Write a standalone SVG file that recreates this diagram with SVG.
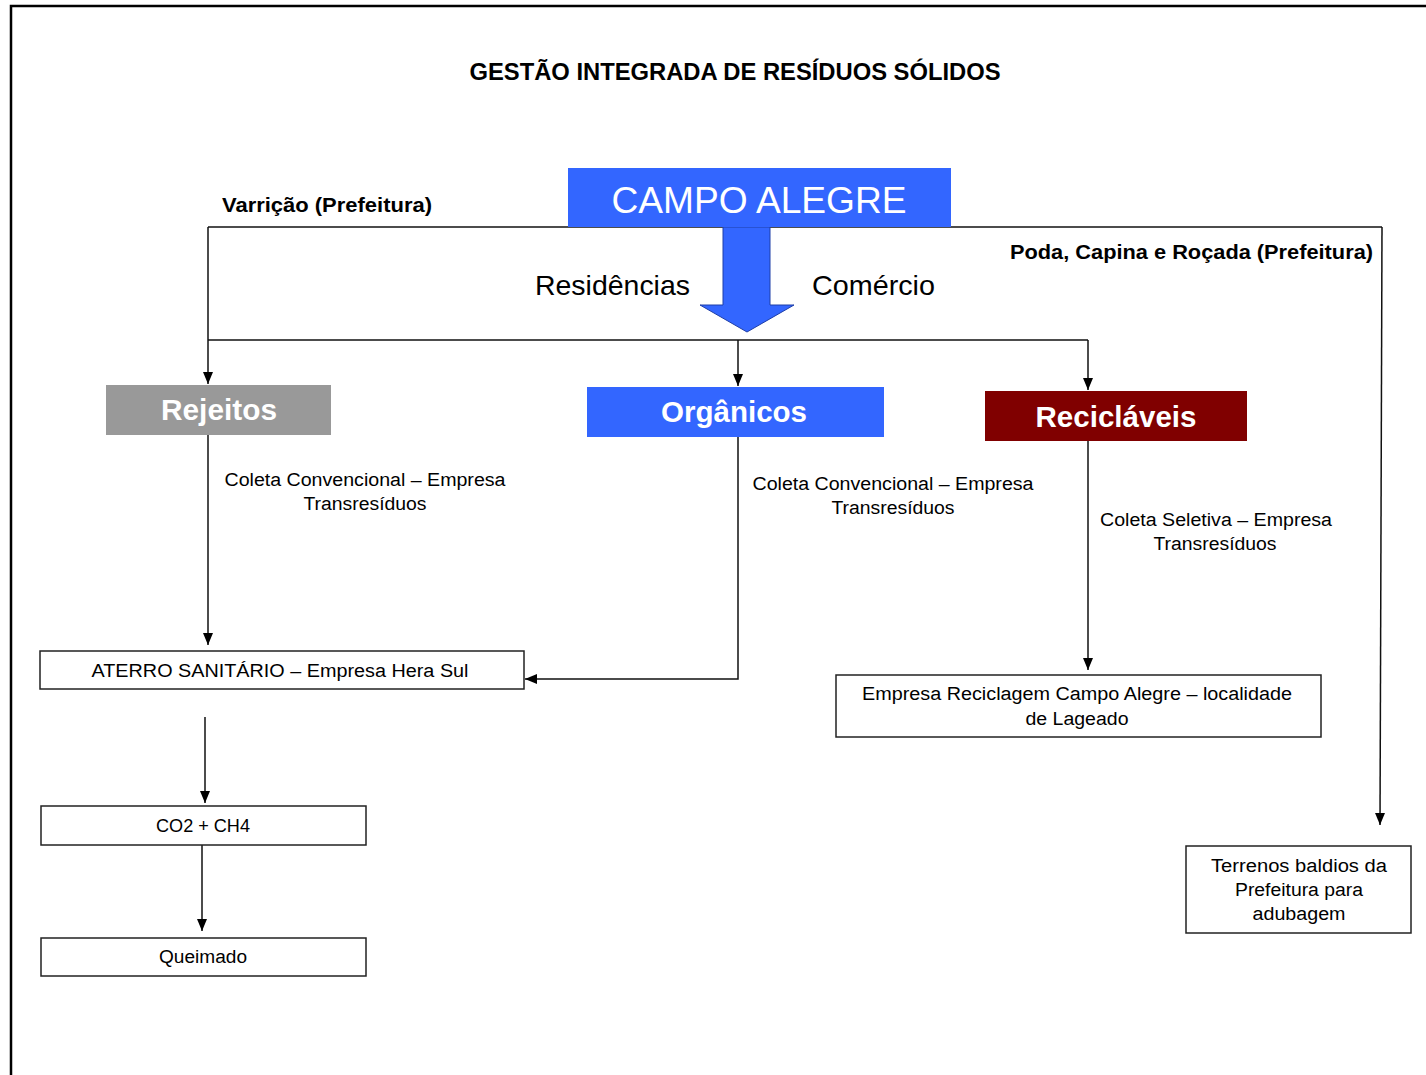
<svg xmlns="http://www.w3.org/2000/svg" width="1426" height="1075" viewBox="0 0 1426 1075">
<style>
  text { font-family: "Liberation Sans", Arial, sans-serif; fill: #000; }
  .box { fill: #fff; stroke: #222; stroke-width: 1.5; }
  .lbl { font-size: 18px; text-anchor: middle; }
  .big { font-size: 29px; font-weight: bold; fill: #fff; text-anchor: middle; }
  .bold { font-size: 20px; font-weight: bold; }
  .conn { fill: none; stroke: #111; stroke-width: 1.5; }
</style>
<defs>
  <marker id="ah" viewBox="0 0 12 10" refX="12" refY="5" markerWidth="12" markerHeight="10" markerUnits="userSpaceOnUse" orient="auto">
    <path d="M0,0 L12,5 L0,10 z" fill="#000"/>
  </marker>
</defs>
<rect x="0" y="0" width="1426" height="1075" fill="#fff"/>
<path d="M11,1075 V6 H1426" fill="none" stroke="#000" stroke-width="2.5"/>

<text x="735" y="80" font-size="24" font-weight="bold" text-anchor="middle" textLength="531" lengthAdjust="spacingAndGlyphs" fill="#111">GESTÃO INTEGRADA DE RESÍDUOS SÓLIDOS</text>

<g id="connectors">
  <path class="conn" d="M208,227 H1382"/>
  <path class="conn" d="M208,227 V384" marker-end="url(#ah)"/>
  <path class="conn" d="M1382,227 L1380,825" marker-end="url(#ah)"/>
  <path class="conn" d="M208,340 H1088"/>
  <path class="conn" d="M738,340 V386" marker-end="url(#ah)"/>
  <path class="conn" d="M1088,340 V390" marker-end="url(#ah)"/>
  <path class="conn" d="M208,435 V645" marker-end="url(#ah)"/>
  <path class="conn" d="M738,437 V679 H525" marker-end="url(#ah)"/>
  <path class="conn" d="M1088,441 V670" marker-end="url(#ah)"/>
  <path class="conn" d="M205,717 V803" marker-end="url(#ah)"/>
  <path class="conn" d="M202,845 V931" marker-end="url(#ah)"/>
  <polygon points="723,227 770,227 770,305 794,305 747,332 700,305 723,305" fill="#3366ff" stroke="#1f3fa8" stroke-width="1"/>
  <text x="222" y="212" class="bold" textLength="210" lengthAdjust="spacingAndGlyphs">Varrição (Prefeitura)</text>
  <text x="1010" y="259" class="bold" textLength="363" lengthAdjust="spacingAndGlyphs">Poda, Capina e Roçada (Prefeitura)</text>
  <text x="535" y="295" font-size="28" textLength="155" lengthAdjust="spacingAndGlyphs">Residências</text>
  <text x="812" y="295" font-size="28" textLength="123" lengthAdjust="spacingAndGlyphs">Comércio</text>
  <text x="365" y="486" class="lbl" textLength="281" lengthAdjust="spacingAndGlyphs">Coleta Convencional – Empresa</text>
  <text x="365" y="510" class="lbl" textLength="123" lengthAdjust="spacingAndGlyphs">Transresíduos</text>
  <text x="893" y="490" class="lbl" textLength="281" lengthAdjust="spacingAndGlyphs">Coleta Convencional – Empresa</text>
  <text x="893" y="514" class="lbl" textLength="123" lengthAdjust="spacingAndGlyphs">Transresíduos</text>
  <text x="1216" y="526" class="lbl" textLength="232" lengthAdjust="spacingAndGlyphs">Coleta Seletiva – Empresa</text>
  <text x="1215" y="550" class="lbl" textLength="123" lengthAdjust="spacingAndGlyphs">Transresíduos</text>
</g>

<g id="campo-alegre">
  <rect x="568" y="168" width="383" height="59" fill="#3366ff"/>
  <text x="759" y="213" font-size="36" text-anchor="middle" textLength="295" lengthAdjust="spacingAndGlyphs" style="fill:#fff">CAMPO ALEGRE</text>
</g>

<g id="rejeitos">
  <rect x="106" y="385" width="225" height="50" fill="#999999"/>
  <text x="219" y="420" class="big" style="fill:#fff" textLength="116" lengthAdjust="spacingAndGlyphs">Rejeitos</text>
</g>

<g id="organicos">
  <rect x="587" y="387" width="297" height="50" fill="#3366ff"/>
  <text x="734" y="422" class="big" style="fill:#fff" textLength="146" lengthAdjust="spacingAndGlyphs">Orgânicos</text>
</g>

<g id="reciclaveis">
  <rect x="985" y="391" width="262" height="50" fill="#800000"/>
  <text x="1116" y="427" class="big" style="fill:#fff" textLength="161" lengthAdjust="spacingAndGlyphs">Recicláveis</text>
</g>

<g id="aterro">
  <rect class="box" x="40" y="651" width="484" height="38"/>
  <text x="280" y="677" class="lbl" textLength="377" lengthAdjust="spacingAndGlyphs">ATERRO SANITÁRIO  – Empresa Hera  Sul</text>
</g>

<g id="co2-ch4">
  <rect class="box" x="41" y="806" width="325" height="39"/>
  <text x="203" y="832" class="lbl" textLength="94" lengthAdjust="spacingAndGlyphs">CO2 + CH4</text>
</g>

<g id="queimado">
  <rect class="box" x="41" y="938" width="325" height="38"/>
  <text x="203" y="963" class="lbl" textLength="88" lengthAdjust="spacingAndGlyphs">Queimado</text>
</g>

<g id="empresa-reciclagem">
  <rect class="box" x="836" y="675" width="485" height="62"/>
  <text x="1077" y="700" class="lbl" textLength="430" lengthAdjust="spacingAndGlyphs">Empresa Reciclagem Campo Alegre – localidade</text>
  <text x="1077" y="725" class="lbl" textLength="103" lengthAdjust="spacingAndGlyphs">de Lageado</text>
</g>

<g id="terrenos">
  <rect class="box" x="1186" y="846" width="225" height="87"/>
  <text x="1299" y="872" class="lbl" textLength="176" lengthAdjust="spacingAndGlyphs">Terrenos baldios da</text>
  <text x="1299" y="896" class="lbl" textLength="128" lengthAdjust="spacingAndGlyphs">Prefeitura para</text>
  <text x="1299" y="920" class="lbl" textLength="93" lengthAdjust="spacingAndGlyphs">adubagem</text>
</g>
</svg>
